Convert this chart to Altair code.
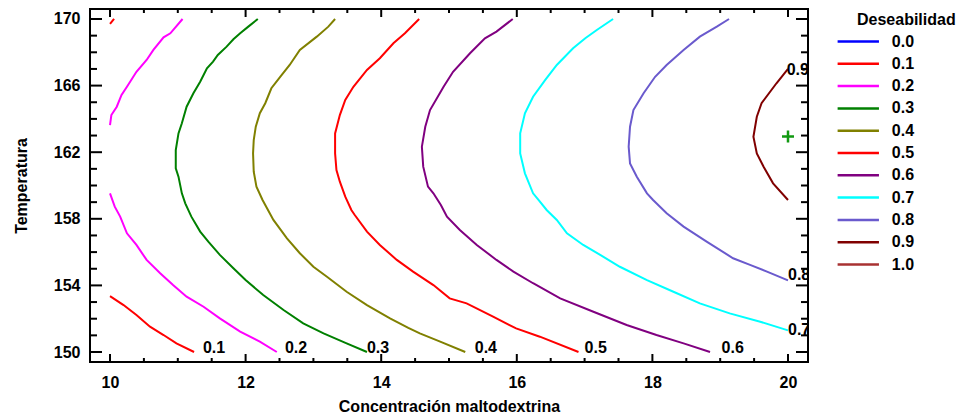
import altair as alt
import pandas as pd

# ---------------- data ----------------
levels = ["0.0", "0.1", "0.2", "0.3", "0.4", "0.5", "0.6", "0.7", "0.8", "0.9", "1.0"]
level_colors = ["#0000ff", "#ff0000", "#ff00ff", "#008000", "#808000", "#ff0000",
                "#800080", "#00ffff", "#6a5acd", "#800000", "#a83232"]

c01_top = [(10.00, 169.70), (10.06, 170.00)]
c01_bot = [(10.00, 153.36), (10.20, 152.82), (10.39, 152.22), (10.59, 151.52),
           (10.79, 151.02), (10.98, 150.52), (11.24, 150.00)]
c02_top = [(11.07, 170.00), (10.89, 169.14), (10.79, 168.90), (10.64, 168.14),
           (10.54, 167.54), (10.39, 166.83), (10.25, 165.93), (10.17, 165.44),
           (10.10, 164.73), (10.02, 164.23), (10.00, 163.63)]
c02_bot = [(10.00, 159.53), (10.07, 158.73), (10.15, 158.13), (10.25, 157.13),
           (10.39, 156.43), (10.54, 155.53), (10.74, 154.73), (10.93, 154.02),
           (11.13, 153.32), (11.38, 152.72), (11.62, 152.02), (11.92, 151.22),
           (12.21, 150.62), (12.46, 150.00)]
c03 = [(12.18, 170.00), (12.04, 169.54), (11.92, 169.14), (11.82, 168.78),
       (11.72, 168.34), (11.59, 167.84), (11.52, 167.44), (11.43, 167.04),
       (11.33, 166.23), (11.23, 165.54), (11.13, 164.73), (11.06, 163.74),
       (11.01, 163.13), (10.97, 162.13), (10.97, 161.03), (11.01, 160.53),
       (11.06, 159.53), (11.11, 158.93), (11.20, 158.13), (11.33, 157.23),
       (11.45, 156.63), (11.62, 155.83), (11.82, 155.03), (12.00, 154.32),
       (12.26, 153.42), (12.56, 152.52), (12.85, 151.72), (13.15, 151.12),
       (13.49, 150.52), (13.79, 150.00)]
c04 = [(13.32, 170.00), (13.22, 169.54), (13.05, 168.94), (12.80, 168.14),
       (12.65, 167.24), (12.51, 166.53), (12.38, 165.84), (12.29, 164.94),
       (12.21, 164.34), (12.15, 163.53), (12.12, 162.73), (12.11, 161.93),
       (12.12, 160.83), (12.16, 159.93), (12.25, 159.13), (12.41, 157.93),
       (12.61, 156.83), (12.80, 155.93), (13.00, 155.12), (13.20, 154.52),
       (13.49, 153.62), (13.79, 152.82), (14.13, 152.02), (14.40, 151.45),
       (14.57, 151.12), (14.87, 150.62), (15.24, 150.00)]
c05 = [(14.56, 170.00), (14.35, 169.14), (14.18, 168.54), (13.98, 167.64),
       (13.79, 166.94), (13.59, 165.93), (13.47, 165.14), (13.39, 164.23),
       (13.32, 163.13), (13.32, 161.93), (13.34, 160.93), (13.39, 160.23),
       (13.47, 159.33), (13.56, 158.53), (13.61, 158.23), (13.79, 157.23),
       (13.98, 156.43), (14.23, 155.53), (14.47, 154.83), (14.77, 154.02),
       (15.01, 153.22), (15.26, 152.92), (15.65, 152.12), (15.99, 151.42),
       (16.34, 150.92), (16.91, 150.00)]
c06 = [(15.94, 170.00), (15.70, 169.24), (15.53, 168.84), (15.31, 167.94),
       (15.06, 166.83), (14.92, 165.93), (14.72, 164.53), (14.65, 163.53),
       (14.60, 162.33), (14.62, 161.13), (14.69, 159.93), (14.77, 159.53),
       (14.88, 158.83), (14.97, 158.13), (15.16, 157.33), (15.41, 156.43),
       (15.70, 155.53), (15.95, 154.83), (16.24, 154.13), (16.64, 153.22),
       (17.13, 152.42), (17.62, 151.62), (18.06, 151.02), (18.46, 150.52),
       (18.85, 150.00)]
c07 = [(17.42, 170.00), (17.18, 169.34), (17.01, 168.84), (16.83, 168.24),
       (16.59, 167.24), (16.42, 166.34), (16.24, 165.33), (16.12, 164.34),
       (16.05, 163.13), (16.05, 161.93), (16.12, 160.73), (16.24, 159.53),
       (16.32, 159.13), (16.44, 158.53), (16.59, 157.93), (16.74, 157.13),
       (16.98, 156.43), (17.23, 155.83), (17.52, 155.12), (17.92, 154.32),
       (18.31, 153.62), (18.70, 152.92), (19.14, 152.32), (19.59, 151.82),
       (20.00, 151.30)]
c08 = [(19.13, 170.00), (18.95, 169.54), (18.70, 168.94), (18.46, 168.14),
       (18.21, 167.24), (18.04, 166.53), (17.87, 165.54), (17.72, 164.53),
       (17.67, 163.53), (17.65, 162.33), (17.67, 161.33), (17.77, 160.53),
       (17.92, 159.53), (18.01, 159.13), (18.21, 158.33), (18.46, 157.53),
       (18.80, 156.63), (19.19, 155.63), (19.44, 155.23), (19.69, 154.83),
       (20.00, 154.30)]
c09 = [(20.00, 167.00), (19.83, 166.14), (19.61, 164.94), (19.54, 164.13),
       (19.49, 162.93), (19.54, 161.93), (19.64, 161.13), (19.78, 160.13),
       (20.00, 159.13)]

segments = [("0.1", "a", c01_top), ("0.1", "b", c01_bot),
            ("0.2", "a", c02_top), ("0.2", "b", c02_bot),
            ("0.3", "a", c03), ("0.4", "a", c04), ("0.5", "a", c05),
            ("0.6", "a", c06), ("0.7", "a", c07), ("0.8", "a", c08),
            ("0.9", "a", c09)]

label_text = ["0.1", "0.2", "0.3", "0.4", "0.5", "0.6", "0.7", "0.8", "0.9"]
label_x = [11.37, 12.58, 13.79, 15.38, 17.00, 19.02, 20.00, 20.00, 19.98]
label_y = [150.26, 150.26, 150.26, 150.26, 150.26, 150.26, 151.34, 154.64, 166.95]

optimum_x = [20.0]
optimum_y = [162.95]

x_major = [10, 12, 14, 16, 18, 20]
x_minor = [10.5, 11, 11.5, 12.5, 13, 13.5, 14.5, 15, 15.5, 16.5, 17, 17.5,
           18.5, 19, 19.5]
y_major = [150, 154, 158, 162, 166, 170]
y_minor = [151, 152, 153, 155, 156, 157, 159, 160, 161, 163, 164, 165, 167,
           168, 169]

# ---------------- build tables ----------------
rows = []
for lev, seg, pts in segments:
    for i, (px, py) in enumerate(pts):
        rows.append({"level": lev, "seg": lev + seg, "ord": i, "x": px, "y": py})
lines_df = pd.DataFrame(rows)
labels_df = pd.DataFrame({"t": label_text, "x": label_x, "y": label_y})
opt_df = pd.DataFrame({"x": optimum_x, "y": optimum_y})
xmaj_df = pd.DataFrame({"v": x_major})
xmin_df = pd.DataFrame({"v": x_minor})
ymaj_df = pd.DataFrame({"v": y_major})
ymin_df = pd.DataFrame({"v": y_minor})

W, H = 718, 353
FONT = "Liberation Sans"

xscale = alt.Scale(domain=[9.705, 20.295], nice=False, zero=False)
yscale = alt.Scale(domain=[149.4, 170.6], nice=False, zero=False)

xaxis = alt.Axis(title="Concentración maltodextrina", values=x_major, format="d",
                 ticks=False, domain=False, grid=False, labelPadding=12,
                 labelFontSize=16, labelFontWeight="bold", labelFont=FONT,
                 labelColor="black", titleFontSize=16, titleFontWeight="bold",
                 titleFont=FONT, titleColor="black", titlePadding=8)
yaxis = alt.Axis(title="Temperatura", values=y_major, format="d",
                 ticks=False, domain=False, grid=False, labelPadding=10,
                 labelFontSize=16, labelFontWeight="bold", labelFont=FONT,
                 labelColor="black", titleFontSize=16, titleFontWeight="bold",
                 titleFont=FONT, titleColor="black", titlePadding=24)

# wide horizontal stroke symbol: path spans 6 units wide, scaled by sqrt(size)/2
SYM_SIZE = 190
sym_r = SYM_SIZE ** 0.5 / 2
color = alt.Color(
    "level:N",
    scale=alt.Scale(domain=levels, range=level_colors),
    legend=alt.Legend(title=None, orient="none", legendX=746 + 2 * sym_r,
                      legendY=24,
                      symbolType="M-3,0H3", symbolSize=SYM_SIZE,
                      symbolStrokeWidth=2.5, symbolFillColor="transparent",
                      labelFontSize=16, labelFontWeight="bold", labelFont=FONT,
                      labelColor="black", rowPadding=5.3,
                      labelOffset=25,
                      padding=0),
)

lines = alt.Chart(lines_df).mark_line(strokeWidth=2, clip=True).encode(
    x=alt.X("x:Q", scale=xscale, axis=xaxis),
    y=alt.Y("y:Q", scale=yscale, axis=yaxis),
    color=color,
    detail="seg:N",
    order="ord:Q",
)

labels = alt.Chart(labels_df).mark_text(
    align="left", baseline="middle", fontSize=16, fontWeight="bold",
    font=FONT, color="black", clip=True
).encode(x=alt.X("x:Q", scale=xscale), y=alt.Y("y:Q", scale=yscale), text="t:N")

opt = alt.Chart(opt_df).mark_point(
    shape="M-1,0H1M0,-1V1", size=144, strokeWidth=2.5, color="#119911",
    filled=False, opacity=1
).encode(x=alt.X("x:Q", scale=xscale), y=alt.Y("y:Q", scale=yscale))

def xticks(df, length):
    bot = alt.Chart(df).mark_rule(color="black", strokeWidth=2).encode(
        x=alt.X("v:Q", scale=xscale), y=alt.value(H), y2=alt.value(H - length))
    top = alt.Chart(df).mark_rule(color="black", strokeWidth=2).encode(
        x=alt.X("v:Q", scale=xscale), y=alt.value(0), y2=alt.value(length))
    return bot + top

def yticks(df, length):
    left = alt.Chart(df).mark_rule(color="black", strokeWidth=2).encode(
        y=alt.Y("v:Q", scale=yscale), x=alt.value(0), x2=alt.value(length))
    right = alt.Chart(df).mark_rule(color="black", strokeWidth=2).encode(
        y=alt.Y("v:Q", scale=yscale), x=alt.value(W), x2=alt.value(W - length))
    return left + right

legend_title = alt.Chart(pd.DataFrame({"t": ["Deseabilidad"]})).mark_text(
    align="left", baseline="middle", fontSize=16, fontWeight="bold",
    font=FONT, color="black"
).encode(x=alt.value(767), y=alt.value(11), text="t:N")

chart = alt.layer(
    lines, labels, opt,
    xticks(xmaj_df, 8), xticks(xmin_df, 4),
    yticks(ymaj_df, 12), yticks(ymin_df, 7),
    legend_title,
).properties(
    width=W, height=H,
    autosize=alt.AutoSizeParams(type="none"),
    padding={"left": 82, "top": 1, "right": 149, "bottom": 53},
    background="white",
).configure_view(stroke="black", strokeWidth=2)

chart.save("out.html", embed_options={"renderer": "svg", "actions": False})
